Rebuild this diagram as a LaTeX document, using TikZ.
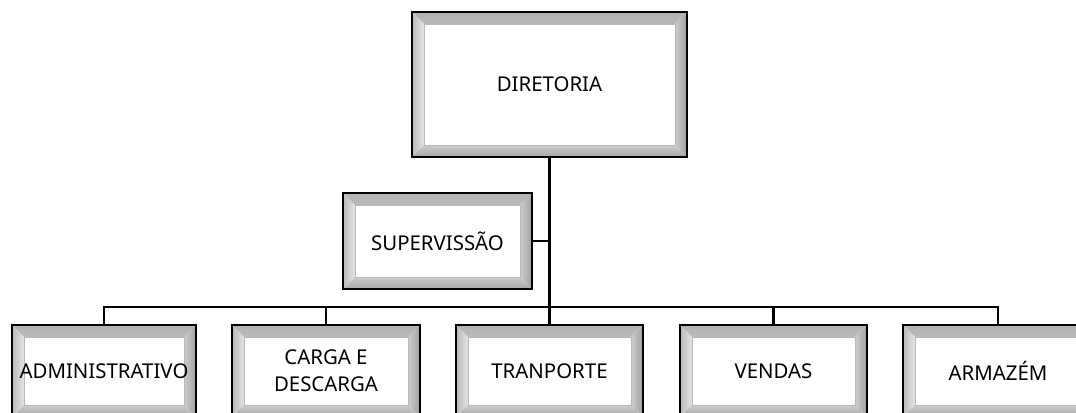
\documentclass[tikz,border=0pt]{standalone}
\usepackage{fontspec}
\setmainfont{Noto Sans}
\usetikzlibrary{calc}
\newcommand{\bvw}{9pt}
\tikzset{
  bev/.style={rectangle, draw=black, line width=1.9pt, inner sep=0pt, align=center,
    fill=white, font=\fontsize{15.3pt}{20.3pt}\selectfont,
    path picture={
      \shade[top color=gray!60, bottom color=gray!20]
        (path picture bounding box.north west) -- (path picture bounding box.north east)
        -- ([xshift=-\bvw,yshift=-\bvw]path picture bounding box.north east)
        -- ([xshift=\bvw,yshift=-\bvw]path picture bounding box.north west) -- cycle;
      \shade[left color=gray!55, right color=gray!20]
        (path picture bounding box.north west) -- ([xshift=\bvw,yshift=-\bvw]path picture bounding box.north west)
        -- ([xshift=\bvw,yshift=\bvw]path picture bounding box.south west)
        -- (path picture bounding box.south west) -- cycle;
      \shade[left color=gray!40, right color=gray!75]
        (path picture bounding box.north east) -- ([xshift=-\bvw,yshift=-\bvw]path picture bounding box.north east)
        -- ([xshift=-\bvw,yshift=\bvw]path picture bounding box.south east)
        -- (path picture bounding box.south east) -- cycle;
      \shade[top color=gray!40, bottom color=gray!70]
        (path picture bounding box.south west) -- ([xshift=\bvw,yshift=\bvw]path picture bounding box.south west)
        -- ([xshift=-\bvw,yshift=\bvw]path picture bounding box.south east)
        -- (path picture bounding box.south east) -- cycle;
      \draw[gray!55, line width=0.5pt]
        ([xshift=\bvw,yshift=-\bvw]path picture bounding box.north west) rectangle
        ([xshift=-\bvw,yshift=\bvw]path picture bounding box.south east);
    }},
  conn/.style={line width=1.65pt, draw=black}
}
\begin{document}
\begin{tikzpicture}[x=0.75pt,y=-0.75pt]
\useasboundingbox (0,0) rectangle (1076,412);
\clip (0,0) rectangle (1076,412);
\fill[white] (0,0) rectangle (1076,412);
\node[bev, minimum width=206.25pt, minimum height=108.75pt] (dir) at (549.5,84.5) {DIRETORIA};
\node[bev, minimum width=141.75pt, minimum height=72pt] (sup) at (437.5,241) {SUPERVISSÃO};
\node[bev, minimum width=138pt, minimum height=69pt] (adm) at (104,371) {ADMINISTRATIVO};
\node[bev, minimum width=141pt, minimum height=69pt] (car) at (326,371) {CARGA E\\DESCARGA};
\node[bev, minimum width=140.25pt, minimum height=69pt] (tra) at (549.5,371) {TRANPORTE};
\node[bev, minimum width=140.25pt, minimum height=69pt] (ven) at (773.5,371) {VENDAS};
\node[bev, minimum width=142.5pt, minimum height=69pt] (arm) at (998,371) {ARMAZÉM};
\coordinate (bus) at (dir.south |- 0,307);
\draw[conn, line width=2.1pt] (dir.south) -- (tra.north);
\draw[conn] (sup.east) -- (sup.east -| dir.south);
\draw[conn] (adm.north) |- (bus) -| (arm.north);
\draw[conn] (car.north) -- (car.north |- bus);
\draw[conn] (ven.north) -- (ven.north |- bus);
\end{tikzpicture}
\end{document}
